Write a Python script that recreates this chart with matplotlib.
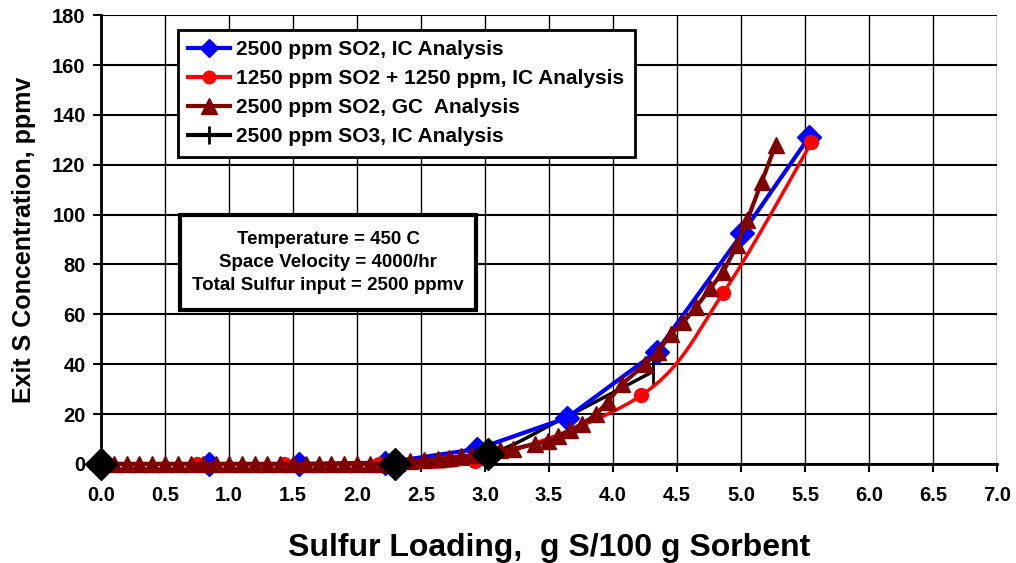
import numpy as np
import matplotlib.pyplot as plt
from matplotlib.patches import Rectangle

plt.rcParams['font.family'] = ['Liberation Sans', 'DejaVu Sans']
plt.rcParams['font.weight'] = 'bold'

# 2500 ppm SO2, IC Analysis
so2_ic_x = [0.0, 0.84, 1.55, 2.22, 2.94, 3.64, 4.34, 5.01, 5.53]
so2_ic_y = [0, 0, 0, 0.5, 6, 18.5, 45, 92.5, 131]

# 1250 ppm SO2 + 1250 ppm, IC Analysis
mix_ic_x = [0.0, 0.75, 1.43, 2.17, 2.92, 4.22, 4.86, 5.55]
mix_ic_y = [0, 0, 0, 0, 1, 27.5, 68.5, 129]

# 2500 ppm SO2, GC Analysis
so2_gc_x = [0.1, 0.2, 0.3, 0.4, 0.5, 0.6, 0.7, 0.8, 0.9, 1.0, 1.1, 1.2,
            1.3, 1.4, 1.5, 1.6, 1.7, 1.8, 1.9, 2.0, 2.1, 2.2,
            2.31, 2.41, 2.52, 2.63, 2.72, 2.81, 2.9, 3.0, 3.12, 3.22,
            3.39, 3.49, 3.57, 3.66, 3.76, 3.87, 3.96, 4.07, 4.25, 4.35,
            4.45, 4.55, 4.65, 4.76, 4.86, 4.97, 5.05, 5.16, 5.27]
so2_gc_y = [0, 0, 0, 0, 0, 0, 0, 0, 0, 0, 0, 0,
            0, 0, 0, 0, 0, 0, 0, 0, 0, 0,
            0.5, 1, 1.5, 2, 2.5, 3, 3.5, 4, 5.5, 6,
            8, 9, 11, 13.5, 16, 20, 25, 32, 40, 45,
            52, 57, 63, 70.5, 77, 88, 98, 113, 128]

# 2500 ppm SO3, IC Analysis
so3_ic_x = [0.0, 2.3, 3.02, 3.6, 4.31]
so3_ic_y = [0, 0, 4, 18, 37]
so3_diamond_x = [0.0, 2.3, 3.02]
so3_diamond_y = [0, 0, 4]

notes = ["Temperature = 450 C", "Space Velocity = 4000/hr",
         "Total Sulfur input = 2500 ppmv"]


def smooth(x, y, n=30):
    # Catmull-Rom style curve through the points (like Excel smoothed lines)
    x = np.asarray(x, float)
    y = np.asarray(y, float)
    px = np.concatenate([[x[0]], x, [x[-1]]])
    py = np.concatenate([[y[0]], y, [y[-1]]])
    xs, ys = [], []
    t = np.linspace(0, 1, n)
    for i in range(1, len(px) - 2):
        for p, out in ((px, xs), (py, ys)):
            p0, p1, p2, p3 = p[i - 1], p[i], p[i + 1], p[i + 2]
            out.extend(0.5 * (2 * p1 + (-p0 + p2) * t
                              + (2 * p0 - 5 * p1 + 4 * p2 - p3) * t ** 2
                              + (-p0 + 3 * p1 - 3 * p2 + p3) * t ** 3))
    return xs, ys


fig = plt.figure(figsize=(10.16, 5.63), dpi=100)
ax = fig.add_axes([0.0994, 0.176, 0.882, 0.797])

sx, sy = smooth(so3_ic_x, so3_ic_y)
ax.plot(sx, sy, color='black', lw=2.5, zorder=3, clip_on=False)
ax.plot([so3_ic_x[-1]], [so3_ic_y[-1]], ls='none', marker='|',
        color='black', ms=19, mew=2, zorder=3)

ax.plot(so2_ic_x, so2_ic_y, color='#0000FF', lw=3, marker='D', ms=12.5,
        zorder=4, clip_on=False)

rx, ry = smooth(mix_ic_x, mix_ic_y)
ax.plot(rx, ry, color='#FF0000', lw=2.5, zorder=4, clip_on=False)
ax.plot(mix_ic_x, mix_ic_y, ls='none', marker='o', color='#FF0000', ms=10,
        zorder=4, clip_on=False)

ax.plot(so2_gc_x, so2_gc_y, color='#800000', lw=3, marker='^', ms=12,
        zorder=5, clip_on=False)

ax.plot(so3_diamond_x, so3_diamond_y, ls='none', marker='D', color='black',
        ms=16.5, zorder=6, clip_on=False)

# legend proxies
h1, = ax.plot([], [], color='#0000FF', lw=3, marker='D', ms=9)
h2, = ax.plot([], [], color='#FF0000', lw=3, marker='o', ms=9)
h3, = ax.plot([], [], color='#800000', lw=3, marker='^', ms=11)
h4, = ax.plot([], [], color='black', lw=3, marker='|', ms=13, mew=2)
leg = ax.legend([h1, h2, h3, h4],
                ['2500 ppm SO2, IC Analysis',
                 '1250 ppm SO2 + 1250 ppm, IC Analysis',
                 '2500 ppm SO2, GC  Analysis',
                 '2500 ppm SO3, IC Analysis'],
                loc='upper left', bbox_to_anchor=(0.086, 0.967),
                borderaxespad=0, fancybox=False, framealpha=1,
                prop={'size': 15, 'weight': 'bold'},
                handlelength=2.0, handletextpad=0.3, labelspacing=0.48,
                borderpad=0.5)
leg.get_frame().set_edgecolor('black')
leg.get_frame().set_linewidth(2)
leg.set_zorder(10)

ax.add_patch(Rectangle((0.088, 0.343), 0.331, 0.212, transform=ax.transAxes,
                       facecolor='white', edgecolor='black', lw=3, zorder=7))
ax.text(0.2535, 0.449, "\n".join(notes), transform=ax.transAxes,
        ha='center', va='center', fontsize=13.5, fontweight='bold',
        linespacing=1.45, zorder=8)

ax.set_xlim(0, 7)
ax.set_ylim(0, 180)
ax.set_xticks(np.arange(0, 7.01, 0.5))
ax.set_yticks(np.arange(0, 181, 20))
ax.set_xticklabels([f"{v:.1f}" for v in np.arange(0, 7.01, 0.5)])
ax.tick_params(labelsize=14.5, width=1.5, length=6, direction='out')
ax.tick_params(axis='x', pad=10)
ax.tick_params(axis='y', pad=5)
for lab in ax.get_xticklabels() + ax.get_yticklabels():
    lab.set_fontweight('bold')

ax.grid(True, axis='y', color='black', lw=1.5, zorder=0)
ax.grid(True, axis='x', color='black', lw=1.0, zorder=0)
ax.set_axisbelow(True)
for s in ['top', 'right']:
    ax.spines[s].set_visible(False)
for s in ['left', 'bottom']:
    ax.spines[s].set_linewidth(2)

ax.set_xlabel("Sulfur Loading,  g S/100 g Sorbent", fontsize=23,
              fontweight='bold', labelpad=20)
ax.set_ylabel("Exit S Concentration, ppmv", fontsize=18, fontweight='bold',
              labelpad=12)

fig.savefig("out.png", dpi=100)
